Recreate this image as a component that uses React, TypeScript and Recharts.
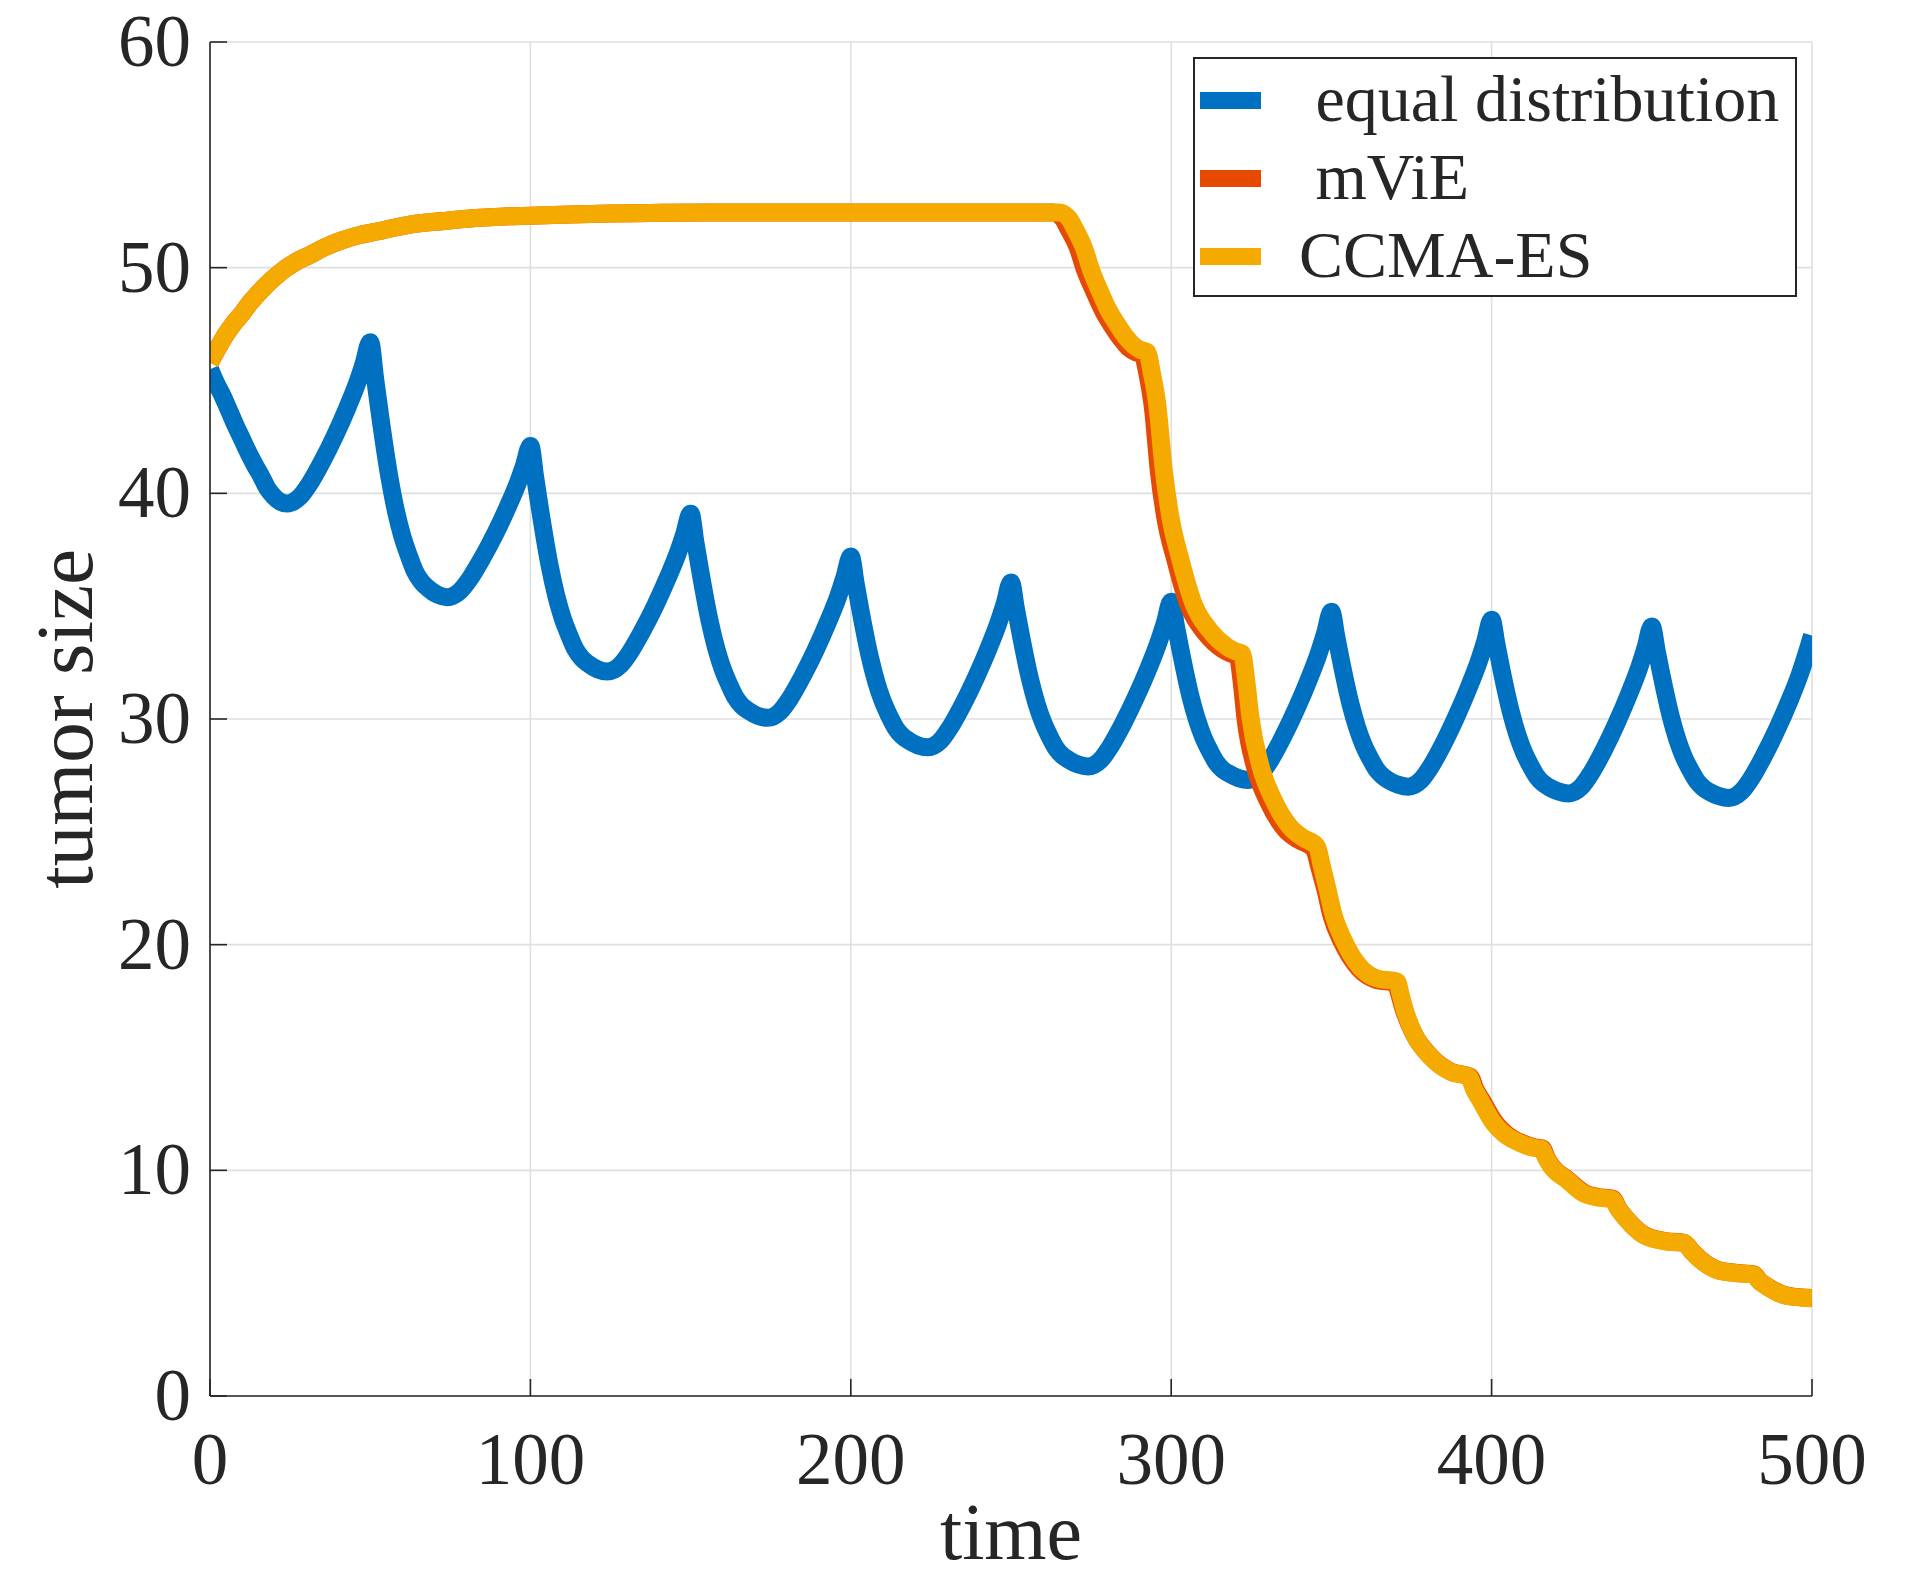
import { CartesianGrid, Label, Line, LineChart, XAxis, YAxis } from 'recharts';

const FONT = '"Liberation Serif", "Times New Roman", Times, serif';
const INK = '#262626';
const GRID = '#dfdfdf';
const BLUE = '#0070c0';
const RED = '#e64a00';
const YELLOW = '#f4aa00';

// ─── Data ───────────────────────────────────────────────────

const timeTicks = [0, 100, 200, 300, 400, 500];
const sizeTicks = [0, 10, 20, 30, 40, 50, 60];

const equalTime = [
  0, 2, 4, 6, 8, 10, 12, 14, 16, 18, 20, 22, 24, 28, 31, 35, 39, 43, 46, 48, 50,
  51.5, 53, 56, 58, 60, 62, 64, 66, 68, 71, 74, 78, 81, 85, 89, 93, 96, 98, 100,
  101.5, 103, 106, 108, 110, 112, 114, 116, 118, 121, 124, 128, 131, 135, 139, 143, 146, 148, 150,
  151.5, 153, 156, 158, 160, 162, 164, 166, 168, 171, 174, 178, 181, 185, 189, 193, 196, 198, 200,
  201.5, 203, 206, 208, 210, 212, 214, 216, 218, 221, 224, 228, 231, 235, 239, 243, 246, 248, 250,
  251.5, 253, 256, 258, 260, 262, 264, 266, 268, 271, 274, 278, 281, 285, 289, 293, 296, 298, 300,
  301.5, 303, 306, 308, 310, 312, 314, 316, 318, 321, 324, 328, 331, 335, 339, 343, 346, 348, 350,
  351.5, 353, 356, 358, 360, 362, 364, 366, 368, 371, 374, 378, 381, 385, 389, 393, 396, 398, 400,
  401.5, 403, 406, 408, 410, 412, 414, 416, 418, 421, 424, 428, 431, 435, 439, 443, 446, 448, 450,
  451.5, 453, 456, 458, 460, 462, 464, 466, 468, 471, 474, 478, 481, 485, 489, 493, 496, 498, 500,
];
const equalSize = [
  45.5, 44.85, 44.3, 43.65, 43.0, 42.4, 41.8, 41.25, 40.75, 40.2, 39.85, 39.62, 39.55, 39.84, 40.41, 41.41, 42.55, 43.84, 44.91, 45.77, 46.7,
  45.12, 43.54, 40.71, 39.24, 38.11, 37.26, 36.53, 36.08, 35.8, 35.51, 35.4, 35.67, 36.2, 37.14, 38.21, 39.42, 40.43, 41.23, 42.1,
  40.7, 39.3, 36.8, 35.5, 34.5, 33.75, 33.1, 32.7, 32.45, 32.2, 32.1, 32.38, 32.94, 33.92, 35.04, 36.3, 37.35, 38.19, 39.1,
  37.83, 36.57, 34.3, 33.13, 32.22, 31.54, 30.96, 30.59, 30.37, 30.14, 30.05, 30.34, 30.91, 31.91, 33.05, 34.34, 35.41, 36.27, 37.2,
  36.02, 34.83, 32.72, 31.62, 30.78, 30.14, 29.6, 29.26, 29.05, 28.83, 28.75, 29.04, 29.63, 30.65, 31.82, 33.13, 34.23, 35.1, 36.05,
  34.91, 33.77, 31.73, 30.67, 29.86, 29.24, 28.72, 28.39, 28.19, 27.98, 27.9, 28.19, 28.78, 29.8, 30.97, 32.28, 33.38, 34.25, 35.2,
  34.09, 32.99, 31.01, 29.99, 29.2, 28.6, 28.09, 27.77, 27.58, 27.38, 27.3, 27.6, 28.19, 29.24, 30.43, 31.77, 32.89, 33.78, 34.75,
  33.67, 32.58, 30.64, 29.64, 28.86, 28.28, 27.78, 27.47, 27.27, 27.08, 27.0, 27.3, 27.89, 28.92, 30.11, 31.44, 32.55, 33.44, 34.4,
  33.32, 32.24, 30.32, 29.32, 28.55, 27.97, 27.47, 27.16, 26.97, 26.78, 26.7, 27.0, 27.59, 28.62, 29.81, 31.14, 32.25, 33.14, 34.1,
  33.04, 31.97, 30.07, 29.08, 28.32, 27.75, 27.26, 26.96, 26.77, 26.58, 26.5, 26.79, 27.36, 28.37, 29.52, 30.82, 31.9, 32.76, 33.7,
];

const mvieTime = [
  0, 2.5, 5, 7.5, 10, 12.5, 15, 17.5, 20, 22.5, 25, 28, 31, 35, 41, 46, 52, 62, 73, 83, 92, 100, 125, 155, 200,
  263, 266, 268, 270.8, 273.1, 276.1, 278.7, 281.4, 284.3, 286.7, 289, 291,
  292.7, 294.2, 296.2, 298.2, 301.4, 305.5, 310.7, 315.9, 318.5, 320.7,
  322.1, 323.2, 326.3, 330.4, 335.6, 339.6, 344.5,
  346.3, 348.1, 350.1, 353.2, 358.5, 363.8, 370,
  371.2, 372.4, 375.7, 381.1, 387.4, 393.3,
  394.9, 397, 401.2, 404.5, 409.3, 413.3, 415.8,
  417.2, 418.7, 423.8, 428.9, 433.2, 437.8,
  439.6, 442.4, 447.6, 454.9, 460.1,
  462.6, 465.3, 470.5, 476.7, 481.9,
  483.6, 486.1, 491.3, 495, 500,
];
const mvieSize = [
  45.8, 46.45, 47.05, 47.55, 47.97, 48.45, 48.85, 49.22, 49.55, 49.85, 50.1, 50.35, 50.55, 50.85, 51.2, 51.42, 51.6, 51.9, 52.07, 52.2, 52.27, 52.3, 52.4, 52.45, 52.45,
  52.45, 52.2, 51.7, 50.9, 49.9, 48.9, 48.1, 47.45, 46.85, 46.45, 46.25, 46.15,
  45.2, 43.9, 40.9, 38.9, 37.0, 35.0, 33.8, 33.1, 32.9, 32.8,
  31.5, 30.0, 27.8, 26.3, 25.1, 24.65, 24.25,
  23.4, 22.45, 21.25, 20.15, 18.95, 18.45, 18.3,
  17.8, 17.2, 16.05, 15.03, 14.37, 14.15,
  13.6, 13.1, 12.1, 11.62, 11.22, 11.02, 10.97,
  10.55, 10.2, 9.58, 9.0, 8.82, 8.74,
  8.3, 7.8, 7.14, 6.85, 6.79,
  6.4, 6.04, 5.59, 5.45, 5.39,
  5.1, 4.85, 4.48, 4.39, 4.34,
];

const ccmaTime = [
  0, 2.5, 5, 7.5, 10, 12.5, 15, 17.5, 20, 22.5, 25, 28, 31, 35, 41, 46, 52, 62, 73, 83, 92, 100, 125, 155, 200,
  265, 268, 270, 272.7, 275, 277.9, 280.5, 283.1, 286, 288.3, 290.5, 292.5,
  294, 295.6, 297.7, 299.7, 302.9, 307, 312.2, 317.4, 320, 322.1,
  323.5, 324.7, 327.9, 332, 337.2, 341, 345.5,
  347, 348.7, 350.7, 353.8, 359, 364.3, 370.5,
  371.5, 372.6, 375.7, 380.9, 387.1, 392.9,
  394.5, 396.5, 400.7, 404, 409, 413, 415.5,
  417, 418.5, 423.6, 428.7, 433, 437.6,
  439.5, 442.3, 447.5, 454.8, 460,
  462.5, 465.2, 470.4, 476.6, 481.8,
  483.5, 486, 491.2, 495, 500,
];
const ccmaSize = [
  45.8, 46.45, 47.05, 47.55, 47.97, 48.45, 48.85, 49.22, 49.55, 49.85, 50.1, 50.35, 50.55, 50.85, 51.2, 51.42, 51.6, 51.9, 52.07, 52.2, 52.27, 52.3, 52.4, 52.45, 52.45,
  52.45, 52.2, 51.7, 50.9, 49.9, 48.9, 48.1, 47.5, 46.9, 46.55, 46.35, 46.26,
  45.3, 44.0, 41.0, 39.0, 37.06, 35.1, 33.9, 33.2, 33.0, 32.9,
  31.6, 30.1, 27.9, 26.4, 25.2, 24.75, 24.35,
  23.5, 22.5, 21.3, 20.2, 19.0, 18.5, 18.36,
  17.85, 17.25, 16.07, 15.03, 14.37, 14.15,
  13.6, 13.1, 12.08, 11.6, 11.2, 11.0, 10.95,
  10.55, 10.2, 9.57, 8.98, 8.8, 8.72,
  8.3, 7.8, 7.13, 6.84, 6.78,
  6.4, 6.03, 5.58, 5.44, 5.38,
  5.1, 4.84, 4.47, 4.38, 4.33,
];

const zip = (ts: number[], vs: number[]) => ts.map((t, i) => ({ t, v: vs[i] }));

const series = [
  { name: ' equal distribution', color: BLUE, data: zip(equalTime, equalSize) },
  { name: ' mViE', color: RED, data: zip(mvieTime, mvieSize) },
  { name: 'CCMA-ES', color: YELLOW, data: zip(ccmaTime, ccmaSize) },
];

// ─── Ticks (MATLAB style: inward marks, box on) ─────────────

const TICK_LEN = 17;

function BottomTick({ x, y, payload }: any) {
  return (
    <g>
      <line x1={x} x2={x} y1={y} y2={y - TICK_LEN} stroke={INK} strokeWidth={1.6} />
      <text x={x} y={y + 88} textAnchor="middle" fontFamily={FONT} fontSize={73} fill={INK}>
        {payload.value}
      </text>
    </g>
  );
}

function TopTick({ x, y }: any) {
  return <line x1={x} x2={x} y1={y} y2={y + TICK_LEN} stroke={INK} strokeWidth={1.6} />;
}

function LeftTick({ x, y, payload }: any) {
  return (
    <g>
      <line x1={x} x2={x + TICK_LEN} y1={y} y2={y} stroke={INK} strokeWidth={1.6} />
      <text x={x - 19} y={y + 24} textAnchor="end" fontFamily={FONT} fontSize={73} fill={INK}>
        {payload.value}
      </text>
    </g>
  );
}

function RightTick({ x, y }: any) {
  return <line x1={x} x2={x - TICK_LEN} y1={y} y2={y} stroke={INK} strokeWidth={1.6} />;
}

function AxisTitle({ viewBox, text, vertical }: any) {
  const { x, y, width, height } = viewBox;
  if (vertical) {
    const cx = x + 92;
    const cy = y + height / 2;
    return (
      <text x={cx} y={cy} transform={`rotate(-90, ${cx}, ${cy})`} textAnchor="middle" fontFamily={FONT} fontSize={81} fill={INK}>
        {text}
      </text>
    );
  }
  return (
    <text x={x + width / 2} y={y + 163} textAnchor="middle" fontFamily={FONT} fontSize={80} fill={INK}>
      {text}
    </text>
  );
}

// ─── Legend box ─────────────────────────────────────────────

function LegendBox() {
  return (
    <div
      style={{
        position: 'absolute',
        left: 1193,
        top: 57,
        width: 604,
        height: 240,
        boxSizing: 'border-box',
        border: `2px solid ${INK}`,
        background: '#fff',
        fontFamily: FONT,
      }}
    >
      {series.map((s, i) => (
        <div key={s.name} style={{ position: 'absolute', left: 0, right: 0, top: 2 + i * 78, height: 78 }}>
          <div style={{ position: 'absolute', left: 5, top: 30.5, width: 61, height: 17, background: s.color }} />
          <div
            style={{
              position: 'absolute',
              left: 104,
              top: 0,
              height: 78,
              lineHeight: '76px',
              fontSize: 66,
              color: INK,
              whiteSpace: 'pre',
            }}
          >
            {s.name}
          </div>
        </div>
      ))}
    </div>
  );
}

export default function App() {
  return (
    <div style={{ position: 'absolute', left: 0, top: 0, width: 1922, height: 1579, background: '#fff' }}>
      <LineChart width={1922} height={1579} margin={{ top: 42, right: 110, bottom: 0, left: 0 }}>
        <CartesianGrid stroke={GRID} strokeWidth={1.6} />
        <XAxis
          dataKey="t"
          type="number"
          domain={[0, 500]}
          ticks={timeTicks}
          interval={0}
          height={183}
          tickSize={0}
          tickMargin={0}
          tickLine={false}
          axisLine={{ stroke: INK, strokeWidth: 1.6 }}
          tick={(p: any) => <BottomTick {...p} />}
          allowDataOverflow
        >
          <Label content={(p: any) => <AxisTitle {...p} text="time" />} />
        </XAxis>
        <XAxis
          xAxisId="top"
          orientation="top"
          dataKey="t"
          type="number"
          domain={[0, 500]}
          ticks={timeTicks}
          interval={0}
          height={0}
          tickSize={0}
          tickMargin={0}
          tickLine={false}
          axisLine={{ stroke: INK, strokeWidth: 1.6 }}
          tick={(p: any) => <TopTick {...p} />}
          allowDataOverflow
        />
        <YAxis
          type="number"
          domain={[0, 60]}
          ticks={sizeTicks}
          interval={0}
          width={210}
          tickSize={0}
          tickMargin={0}
          tickLine={false}
          axisLine={{ stroke: INK, strokeWidth: 1.6 }}
          tick={(p: any) => <LeftTick {...p} />}
          allowDataOverflow
        >
          <Label content={(p: any) => <AxisTitle {...p} text="tumor size" vertical />} />
        </YAxis>
        <YAxis
          yAxisId="right"
          orientation="right"
          type="number"
          domain={[0, 60]}
          ticks={sizeTicks}
          interval={0}
          width={0}
          tickSize={0}
          tickMargin={0}
          tickLine={false}
          axisLine={{ stroke: INK, strokeWidth: 1.6 }}
          tick={(p: any) => <RightTick {...p} />}
          allowDataOverflow
        />
        {series.map(s => (
          <Line
            key={s.name}
            data={s.data}
            dataKey="v"
            name={s.name}
            type="monotone"
            stroke={s.color}
            strokeWidth={18}
            strokeLinejoin="round"
            dot={false}
            activeDot={false}
            isAnimationActive={false}
          />
        ))}
      </LineChart>
      <LegendBox />
    </div>
  );
}
